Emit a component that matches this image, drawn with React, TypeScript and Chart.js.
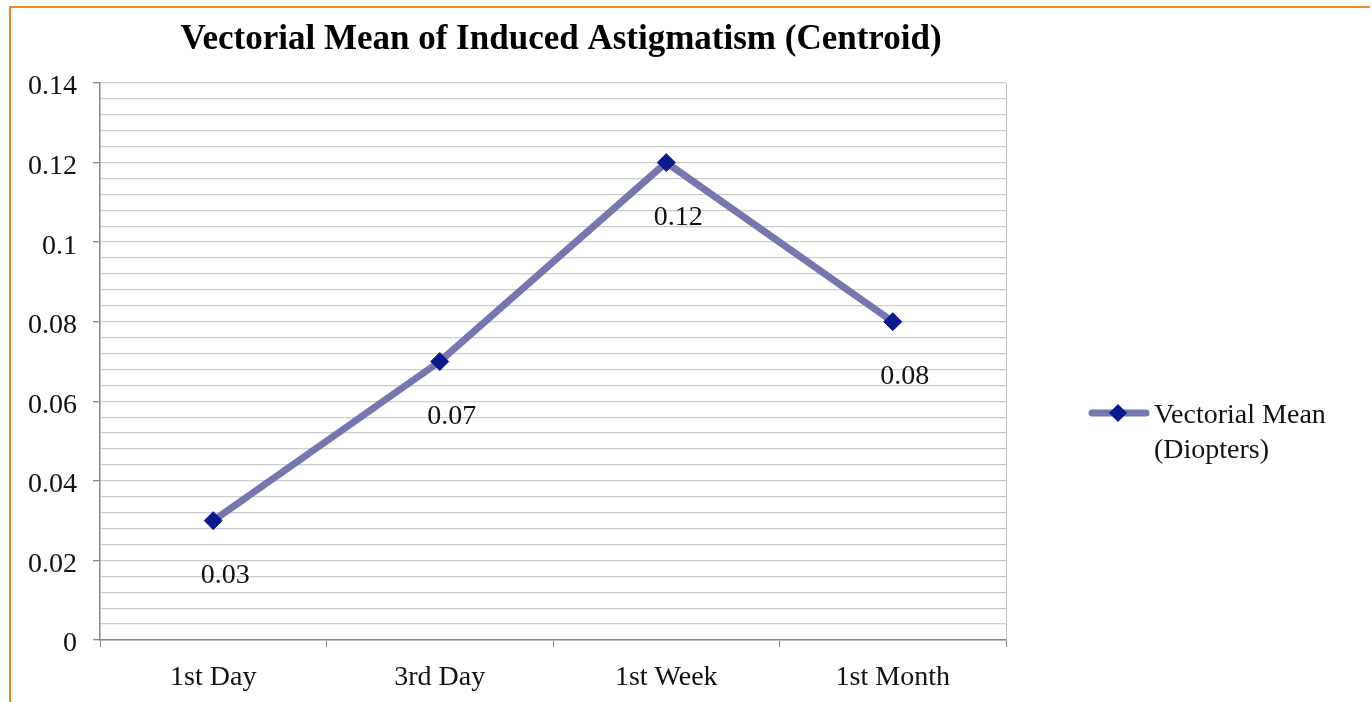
import React, { useEffect, useRef } from "react";
import { Chart, registerables } from "chart.js";

Chart.register(...registerables);

const categories = ["1st Day", "3rd Day", "1st Week", "1st Month"];
const seriesValues = [0.03, 0.07, 0.12, 0.08];
const seriesLabelLines = ["Vectorial Mean", "(Diopters)"];
const chartTitle = "Vectorial Mean of Induced Astigmatism (Centroid)";
const yMin = 0;
const yMax = 0.14;
const yMinorStep = 0.004;
const yMajorStep = 0.02;

const SERIF = "'Liberation Serif', 'Times New Roman', serif";
const LINE_COLOR = "#7677AE";
const MARKER_COLOR = "#0A1A8C";

const isMajor = (v: number) => Math.abs(v / yMajorStep - Math.round(v / yMajorStep)) < 1e-6;

export default function App() {
  const ref = useRef<HTMLCanvasElement | null>(null);

  useEffect(() => {
    const canvas = ref.current;
    if (!canvas) return;

    const extras = {
      id: "extras",
      afterDatasetsDraw(chart: any) {
        const ctx = chart.ctx;
        const area = chart.chartArea;
        ctx.save();
        // plot right border
        ctx.strokeStyle = "#BDBDBD";
        ctx.lineWidth = 1;
        ctx.beginPath();
        ctx.moveTo(area.right + 0.5, area.top);
        ctx.lineTo(area.right + 0.5, area.bottom);
        ctx.stroke();

        // data labels
        const meta = chart.getDatasetMeta(0);
        ctx.fillStyle = "#111";
        ctx.font = `28px ${SERIF}`;
        ctx.textAlign = "center";
        ctx.textBaseline = "middle";
        meta.data.forEach((pt: any, i: number) => {
          ctx.fillText(String(seriesValues[i]), pt.x + 12, pt.y + 55);
        });

        // title
        ctx.font = `bold 35px ${SERIF}`;
        ctx.fillStyle = "#000";
        ctx.fillText(chartTitle, (area.left + area.right) / 2 + 8, 40);

        // legend
        const ly = 413;
        ctx.strokeStyle = LINE_COLOR;
        ctx.lineWidth = 7;
        ctx.lineCap = "round";
        ctx.beginPath();
        ctx.moveTo(1092, ly);
        ctx.lineTo(1146, ly);
        ctx.stroke();
        ctx.fillStyle = MARKER_COLOR;
        ctx.beginPath();
        ctx.moveTo(1118, ly - 9);
        ctx.lineTo(1127, ly);
        ctx.lineTo(1118, ly + 9);
        ctx.lineTo(1109, ly);
        ctx.closePath();
        ctx.fill();
        ctx.fillStyle = "#111";
        ctx.font = `28px ${SERIF}`;
        ctx.textAlign = "left";
        ctx.fillText(seriesLabelLines[0], 1154, 416);
        ctx.fillText(seriesLabelLines[1], 1154, 451);
        ctx.restore();
      },
    };

    const chart = new Chart(canvas, {
      type: "line",
      data: {
        labels: categories,
        datasets: [
          {
            label: seriesLabelLines.join(" "),
            data: seriesValues,
            borderColor: LINE_COLOR,
            borderWidth: 7,
            pointStyle: "rectRot",
            pointRadius: 9,
            pointBackgroundColor: MARKER_COLOR,
            pointBorderColor: MARKER_COLOR,
            pointBorderWidth: 1,
            tension: 0,
          },
        ],
      },
      options: {
        responsive: false,
        animation: false,
        layout: { padding: { left: 8, top: 83, right: 366, bottom: 0 } },
        plugins: {
          legend: { display: false },
          title: { display: false },
          tooltip: { enabled: false },
        },
        scales: {
          x: {
            type: "category",
            offset: true,
            grid: {
              offset: true,
              drawOnChartArea: false,
              drawTicks: true,
              tickLength: 7,
              tickColor: "#888",
            },
            border: { color: "#888", width: 1.5 },
            ticks: {
              color: "#111",
              font: { family: SERIF, size: 28 },
              padding: 14,
            },
            afterFit: (s: any) => {
              s.height = 62;
            },
          },
          y: {
            min: yMin,
            max: yMax,
            grid: {
              color: "#CCCCCC",
              lineWidth: 1.3,
              drawTicks: true,
              tickLength: 7,
              tickColor: (c: any) => (c.tick && isMajor(c.tick.value) ? "#888" : "rgba(0,0,0,0)"),
            },
            border: { color: "#888", width: 1.5 },
            ticks: {
              stepSize: yMinorStep,
              autoSkip: false,
              color: "#111",
              font: { family: SERIF, size: 28 },
              padding: 16,
              labelOffset: 4,
              callback: (v: any) => {
                const n = Number(v);
                return isMajor(n) ? String(Math.round(n * 100) / 100) : "";
              },
            },
            afterFit: (s: any) => {
              s.width = 92;
            },
          },
        },
      },
      plugins: [extras],
    });

    return () => chart.destroy();
  }, []);

  return (
    <div style={{ position: "fixed", left: 0, top: 0, width: 1372, height: 702, background: "#fff" }}>
      <div
        style={{
          position: "absolute",
          left: 9,
          top: 6,
          width: 1361,
          height: 702,
          borderTop: "2px solid #F08A1E",
          borderLeft: "2px solid #F08A1E",
          boxSizing: "border-box",
        }}
      />
      <canvas ref={ref} width={1372} height={702} style={{ position: "absolute", left: 0, top: 0 }} />
    </div>
  );
}
